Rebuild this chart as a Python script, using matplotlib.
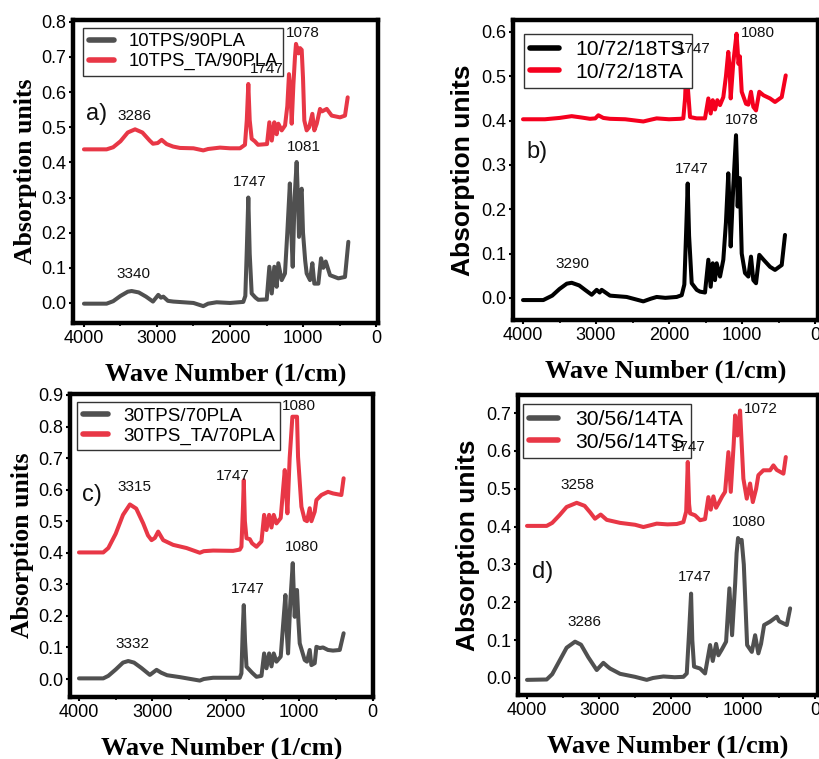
import matplotlib
matplotlib.use("Agg")
import matplotlib.pyplot as plt
from matplotlib.ticker import MultipleLocator

# ---------------- data ----------------
# panel a
a_gray_x = [4000, 3690, 3600, 3500, 3400, 3347, 3250, 3150, 3055, 2982, 2945, 2913, 2850, 2777, 2500, 2366, 2300,
            2183, 2000, 1818, 1790, 1770, 1749, 1730, 1703, 1650, 1612, 1497, 1461, 1428, 1393, 1361, 1338, 1292,
            1247, 1215, 1180, 1160, 1141, 1115, 1087, 1070, 1055, 1035, 1018, 1000, 970, 950, 904, 872, 845, 790,
            753, 722, 689, 630, 516, 425, 379]
a_gray_y = [-0.002, -0.002, 0.005, 0.02, 0.032, 0.034, 0.03, 0.018, 0.004, 0.023, 0.015, 0.018, 0.006, 0.004, 0.0,
            -0.009, -0.002, 0.002, 0.0, 0.003, 0.02, 0.15, 0.30, 0.14, 0.027, 0.015, 0.009, 0.01, 0.103, 0.027,
            0.103, 0.046, 0.113, 0.065, 0.084, 0.2, 0.34, 0.2, 0.103, 0.3, 0.401, 0.3, 0.188, 0.31, 0.325, 0.2,
            0.12, 0.084, 0.065, 0.113, 0.055, 0.055, 0.127, 0.1, 0.118, 0.079, 0.07, 0.074, 0.174]
a_red_x = [4000, 3690, 3600, 3500, 3400, 3300, 3200, 3100, 3055, 2990, 2936, 2868, 2780, 2685, 2500, 2366, 2300,
           2137, 2000, 1863, 1795, 1770, 1749, 1730, 1703, 1660, 1616, 1493, 1461, 1428, 1393, 1361, 1338, 1292,
           1246, 1215, 1192, 1170, 1155, 1132, 1110, 1096, 1060, 1040, 1018, 1000, 982, 950, 915, 872, 845, 812,
           767, 740, 675, 607, 493, 425, 388]
a_red_y = [0.437, 0.437, 0.443, 0.46, 0.485, 0.494, 0.485, 0.462, 0.453, 0.455, 0.464, 0.452, 0.445, 0.441, 0.44,
           0.434, 0.438, 0.442, 0.44, 0.44, 0.45, 0.52, 0.623, 0.52, 0.467, 0.46, 0.45, 0.452, 0.514, 0.462, 0.514,
           0.48, 0.51, 0.491, 0.505, 0.56, 0.651, 0.6, 0.51, 0.62, 0.70, 0.737, 0.71, 0.725, 0.72, 0.64, 0.519,
           0.491, 0.5, 0.538, 0.491, 0.51, 0.552, 0.545, 0.552, 0.533, 0.528, 0.533, 0.585]

# panel b
b_black_x = [4000, 3722, 3600, 3500, 3400, 3333, 3230, 3150, 3059, 2991, 2950, 2922, 2808, 2580, 2352, 2250, 2169,
             2050, 1895, 1826, 1790, 1765, 1744, 1725, 1689, 1620, 1575, 1507, 1461, 1429, 1401, 1370, 1347, 1301,
             1256, 1220, 1188, 1170, 1155, 1120, 1082, 1070, 1059, 1045, 1030, 1004, 959, 913, 877, 845, 808, 763,
             705, 616, 548, 456, 411]
b_black_y = [-0.005, -0.005, 0.005, 0.02, 0.032, 0.034, 0.028, 0.018, 0.007, 0.018, 0.012, 0.018, 0.005, 0.002,
             -0.008, -0.002, 0.002, 0.0, 0.002, 0.006, 0.03, 0.15, 0.258, 0.14, 0.033, 0.018, 0.014, 0.012, 0.086,
             0.025, 0.078, 0.04, 0.078, 0.048, 0.086, 0.17, 0.281, 0.2, 0.116, 0.25, 0.367, 0.3, 0.206, 0.27, 0.27,
             0.1, 0.056, 0.048, 0.093, 0.04, 0.033, 0.097, 0.086, 0.07, 0.063, 0.074, 0.142]
b_red_x = [4000, 3700, 3500, 3333, 3200, 3082, 3010, 2968, 2900, 2808, 2600, 2352, 2250, 2169, 2000, 1850, 1804,
           1780, 1760, 1740, 1712, 1621, 1507, 1461, 1429, 1401, 1370, 1338, 1301, 1256, 1220, 1188, 1170, 1155,
           1120, 1075, 1060, 1048, 1030, 1004, 945, 913, 877, 845, 808, 763, 705, 616, 548, 456, 401]
b_red_y = [0.403, 0.403, 0.406, 0.41, 0.407, 0.404, 0.405, 0.412, 0.406, 0.404, 0.403, 0.398, 0.402, 0.405, 0.403,
           0.404, 0.405, 0.45, 0.53, 0.47, 0.408, 0.405, 0.405, 0.45, 0.416, 0.446, 0.425, 0.446, 0.435, 0.453,
           0.5, 0.555, 0.52, 0.45, 0.53, 0.596, 0.56, 0.528, 0.545, 0.465, 0.438, 0.436, 0.465, 0.431, 0.423,
           0.465, 0.457, 0.45, 0.442, 0.453, 0.502]

# panel c
c_gray_x = [4000, 3669, 3600, 3500, 3400, 3329, 3250, 3150, 3034, 2943, 2880, 2800, 2626, 2354, 2300, 2173, 1810,
            1787, 1770, 1755, 1738, 1718, 1642, 1582, 1514, 1478, 1446, 1410, 1378, 1347, 1310, 1252, 1220, 1188,
            1170, 1152, 1120, 1088, 1075, 1061, 1045, 1030, 1010, 993, 925, 894, 857, 834, 789, 766, 720, 676,
            608, 540, 448, 395]
c_gray_y = [0.002, 0.002, 0.01, 0.03, 0.052, 0.057, 0.052, 0.035, 0.013, 0.029, 0.02, 0.012, 0.006, -0.005, 0.0,
            0.004, 0.004, 0.018, 0.15, 0.234, 0.12, 0.039, 0.02, 0.007, 0.01, 0.081, 0.034, 0.081, 0.04, 0.081,
            0.055, 0.071, 0.17, 0.266, 0.15, 0.081, 0.25, 0.367, 0.28, 0.197, 0.27, 0.282, 0.18, 0.113, 0.06,
            0.055, 0.092, 0.044, 0.05, 0.102, 0.098, 0.1, 0.092, 0.09, 0.092, 0.145]
c_red_x = [4000, 3669, 3600, 3500, 3400, 3306, 3220, 3125, 3060, 3011, 2966, 2921, 2853, 2717, 2535, 2354, 2300,
           2173, 1901, 1810, 1787, 1765, 1755, 1740, 1718, 1673, 1642, 1582, 1514, 1478, 1446, 1410, 1378, 1347,
           1310, 1252, 1220, 1197, 1180, 1161, 1130, 1093, 1030, 1016, 970, 925, 894, 857, 834, 789, 766, 698,
           608, 540, 426, 395]
c_red_y = [0.401, 0.401, 0.415, 0.46, 0.52, 0.553, 0.54, 0.493, 0.455, 0.44, 0.447, 0.467, 0.44, 0.425, 0.415,
           0.4, 0.405, 0.407, 0.406, 0.41, 0.419, 0.55, 0.63, 0.5, 0.446, 0.443, 0.43, 0.419, 0.436, 0.52, 0.472,
           0.52, 0.48, 0.52, 0.493, 0.51, 0.6, 0.662, 0.6, 0.525, 0.7, 0.831, 0.831, 0.704, 0.546, 0.504, 0.5,
           0.541, 0.5, 0.53, 0.567, 0.583, 0.593, 0.588, 0.583, 0.636]

# panel d
d_gray_x = [4000, 3727, 3650, 3550, 3450, 3333, 3250, 3150, 3032, 2940, 2880, 2847, 2708, 2500, 2338, 2250, 2106,
            1950, 1829, 1782, 1750, 1722, 1705, 1681, 1597, 1528, 1458, 1421, 1375, 1343, 1296, 1236, 1190, 1153,
            1110, 1090, 1070, 1045, 1020, 990, 944, 879, 833, 788, 751, 708, 625, 532, 500, 393, 347]
d_gray_y = [-0.005, -0.004, 0.01, 0.045, 0.08, 0.096, 0.088, 0.055, 0.021, 0.04, 0.03, 0.025, 0.011, 0.003,
            -0.005, 0.0, 0.004, 0.002, 0.003, 0.012, 0.12, 0.223, 0.1, 0.03, 0.025, 0.012, 0.087, 0.045, 0.09,
            0.06, 0.075, 0.096, 0.237, 0.113, 0.25, 0.33, 0.37, 0.36, 0.365, 0.3, 0.087, 0.069, 0.113, 0.065,
            0.09, 0.14, 0.149, 0.162, 0.15, 0.14, 0.184]
d_red_x = [4000, 3727, 3650, 3550, 3450, 3310, 3200, 3120, 3056, 2977, 2893, 2708, 2500, 2384, 2300, 2199, 2050,
           1921, 1829, 1790, 1768, 1750, 1736, 1667, 1597, 1528, 1482, 1449, 1412, 1375, 1343, 1290, 1250, 1204,
           1171, 1130, 1111, 1079, 1042, 1020, 996, 949, 903, 865, 819, 788, 718, 625, 579, 533, 440, 407]
d_red_y = [0.402, 0.402, 0.41, 0.43, 0.452, 0.463, 0.455, 0.437, 0.421, 0.432, 0.418, 0.41, 0.405, 0.399, 0.403,
           0.408, 0.406, 0.407, 0.412, 0.44, 0.571, 0.46, 0.435, 0.43, 0.417, 0.42, 0.478, 0.445, 0.48, 0.45,
           0.461, 0.48, 0.492, 0.597, 0.492, 0.62, 0.694, 0.641, 0.707, 0.62, 0.527, 0.474, 0.514, 0.465, 0.5,
           0.536, 0.549, 0.549, 0.562, 0.55, 0.54, 0.584]

labels_a = ["10TPS/90PLA", "10TPS_TA/90PLA"]
labels_b = ["10/72/18TS", "10/72/18TA"]
labels_c = ["30TPS/70PLA", "30TPS_TA/70PLA"]
labels_d = ["30/56/14TA", "30/56/14TS"]

# annotations: (text, x, y)
ann_a = [("3286", 3311, 0.533), ("1078", 1004, 0.768), ("1747", 1497, 0.665), ("1081", 986, 0.443),
         ("1747", 1726, 0.344), ("3340", 3324, 0.082)]
ann_b = [("1080", 777, 0.598), ("1747", 1667, 0.562), ("1078", 1004, 0.401), ("1747", 1689, 0.29),
         ("3290", 3322, 0.076)]
ann_c = [("1080", 1007, 0.866), ("1747", 1901, 0.643), ("3315", 3238, 0.607), ("1080", 962, 0.419),
         ("1747", 1697, 0.284), ("3332", 3275, 0.11)]
ann_d = [("1072", 750, 0.712), ("1747", 1760, 0.61), ("3258", 3296, 0.509), ("1080", 926, 0.412),
         ("1747", 1676, 0.266), ("3286", 3208, 0.147)]

GRAY = "#505050"
RED = "#e83746"
BRED = "#f5001e"

W, H = 819, 759
fig = plt.figure(figsize=(W / 100, H / 100), dpi=100)


def px_axes(l, t, r, b):
    return fig.add_axes([l / W, 1 - b / H, (r - l) / W, (b - t) / H])


panels = [
    dict(rect=(73, 20, 378, 323), xl=(4150, -27), yl=(-0.057, 0.805), yt=0.8,
         s=[(a_gray_x, a_gray_y, GRAY), (a_red_x, a_red_y, RED)], labels=labels_a, ann=ann_a,
         tag=("a)", 3826, 0.538), serif=True, leg=(0.033, 0.974), lfs=13.3),
    dict(rect=(513, 20, 818, 320), xl=(4137, -41), yl=(-0.05, 0.627), yt=0.6,
         s=[(b_black_x, b_black_y, "black"), (b_red_x, b_red_y, BRED)], labels=labels_b, ann=ann_b,
         tag=("b)", 3812, 0.33), serif=False, leg=(0.036, 0.953), lfs=15.2),
    dict(rect=(70, 394, 373, 697), xl=(4122, -5), yl=(-0.057, 0.903), yt=0.9,
         s=[(c_gray_x, c_gray_y, GRAY), (c_red_x, c_red_y, RED)], labels=labels_c, ann=ann_c,
         tag=("c)", 3827, 0.583), serif=True, leg=(0.023, 0.974), lfs=13.5),
    dict(rect=(518, 395, 818, 695), xl=(4125, -40), yl=(-0.045, 0.748), yt=0.7,
         s=[(d_gray_x, d_gray_y, GRAY), (d_red_x, d_red_y, RED)], labels=labels_d, ann=ann_d,
         tag=("d)", 3787, 0.28), serif=False, leg=(0.017, 0.97), lfs=15.2),
]

for p in panels:
    ax = px_axes(*p["rect"])
    handles = []
    for (xs, ys, col), lab in zip(p["s"], p["labels"]):
        h, = ax.plot(xs, ys, color=col, lw=2.9, solid_joinstyle="round", solid_capstyle="round",
                     label=lab, zorder=2)
        handles.append(h)
    ax.set_xlim(*p["xl"])
    ax.set_ylim(*p["yl"])
    ax.xaxis.set_major_locator(MultipleLocator(1000))
    ax.xaxis.set_minor_locator(MultipleLocator(500))
    n = int(round(p["yt"] * 10)) + 1
    ax.set_yticks([round(0.1 * i, 1) for i in range(n)])
    ax.set_yticklabels([f"{0.1 * i:.1f}" for i in range(n)])
    for sp in ax.spines.values():
        sp.set_linewidth(3.2)
    ax.tick_params(axis="both", which="major", direction="out", length=3, width=1.5,
                   labelsize=13, pad=2)
    ax.tick_params(axis="x", which="minor", direction="out", length=2, width=1.2)
    for t in ax.get_xticklabels() + ax.get_yticklabels():
        t.set_fontfamily("Liberation Sans")
    ax.set_xlabel("Wave Number (1/cm)", fontfamily="Liberation Serif", fontweight="bold",
                  fontsize=19, labelpad=11)
    if p["serif"]:
        ax.set_ylabel("Absorption units", fontfamily="Liberation Serif", fontweight="bold",
                      fontsize=18.5, labelpad=3)
    else:
        ax.set_ylabel("Absorption units", fontfamily="Liberation Sans", fontweight="bold",
                      fontsize=19, labelpad=4)
    leg = ax.legend(handles=handles, loc="upper left", bbox_to_anchor=p["leg"], borderaxespad=0,
                    frameon=True, fancybox=False, framealpha=1, edgecolor="#333333",
                    prop={"family": "Liberation Sans", "size": p["lfs"]},
                    handlelength=1.35, handletextpad=0.8, borderpad=0.3, labelspacing=0.15)
    leg.get_frame().set_linewidth(1.0)
    for ln in leg.get_lines():
        ln.set_linewidth(4)
    leg.set_zorder(4)
    for txt, x, y in p["ann"]:
        ax.text(x, y, txt, ha="center", va="center", fontsize=11, fontfamily="Liberation Sans",
                color="#111111", zorder=6)
    tg, tx, ty = p["tag"]
    ax.text(tx, ty, tg, ha="center", va="center", fontsize=17, fontfamily="Liberation Sans",
            color="#111111", zorder=6)

fig.savefig("out.png", dpi=100)
